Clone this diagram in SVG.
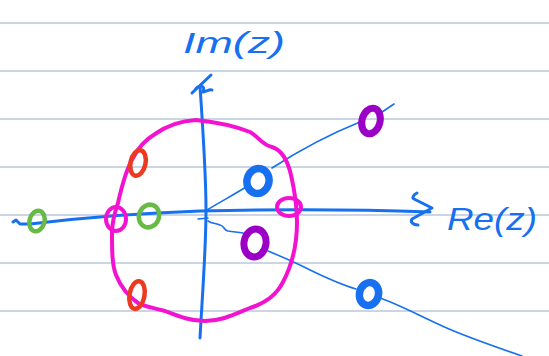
<svg xmlns="http://www.w3.org/2000/svg" width="549" height="356" viewBox="0 0 549 356">
<style>
.rule{stroke:#cbd5e3;stroke-width:2;fill:none}
.ax{stroke:#1670f0;stroke-width:3;fill:none;stroke-linecap:round;stroke-linejoin:round}
.thin{stroke:#1670f0;stroke-width:1.6;fill:none;stroke-linecap:round;stroke-linejoin:round}
.pink{stroke:#f412d2;stroke-width:4;fill:none;stroke-linecap:round;stroke-linejoin:round}
.red{stroke:#ec3a22;stroke-width:4.5;fill:none}
.green{stroke:#66bb44;stroke-width:4.5;fill:none}
.blue{stroke:#1670f0;stroke-width:7.5;fill:none}
.purple{stroke:#9a00c6;stroke-width:7;fill:none}
.lbl{font-family:"Liberation Sans",Arial,sans-serif;font-style:italic;fill:#1670f0}
</style>
<rect width="549" height="356" fill="#ffffff"/>
<g id="rules">
<line class="rule" x1="0" y1="23" x2="549" y2="23"/>
<line class="rule" x1="0" y1="71" x2="549" y2="71"/>
<line class="rule" x1="0" y1="119" x2="549" y2="119"/>
<line class="rule" x1="0" y1="167" x2="549" y2="167"/>
<line class="rule" x1="0" y1="215" x2="549" y2="215"/>
<line class="rule" x1="0" y1="263" x2="549" y2="263"/>
<line class="rule" x1="0" y1="311" x2="549" y2="311"/>
</g>
<g id="connectors">
<path class="ax" d="M 200,86 C 203,130 206,180 206,210 C 206,250 202,300 200,338"/>
<path class="ax" d="M 192,93 L 211,75 M 195,90 C 199,84 206,85 203,92 C 207,91 210,89 212,90"/>
<path class="ax" d="M 13,222 L 16,220 L 20,224 L 30,224 C 80,218 140,213 200,211 C 280,209 350,209 430,212"/>
<path class="ax" d="M 417,193 C 413,195 412,198 414,199 L 432,208 L 412,219 C 410,222 413,225 418,225"/>
<path class="thin" d="M 207,210 C 220,202 235,194 246,187 M 272,168 C 300,150 330,134 360,122 M 382,112 L 394,104"/>
<path class="thin" d="M 198,219 L 208,218 M 208,221 C 212,224 216,223 220,225 C 225,226 223,230 228,231 C 234,232 238,232 243,233 M 268,251 C 280,256 292,261 304,267 C 320,275 336,283 356,289 M 380,298 C 400,305 420,316 449,329 C 470,338 490,345 522,356"/>
<path class="pink" d="M 196,120 C 215,122 235,126 250,132 C 258,136 262,145 272,147 C 282,150 288,162 291,175 C 294,188 297,205 297,222 C 297,245 292,265 283,282 C 276,296 265,303 250,308 C 235,314 222,321 205,321 C 190,321 178,316 165,311 C 155,308 145,307 138,303 C 128,296 120,285 116,275 C 112,265 112,250 112,233 C 112,220 115,212 118,203 C 122,185 127,168 133,158 C 138,148 145,140 155,134 C 165,127 178,121 196,120 Z"/>
</g>
<g id="label-im"><text class="lbl" x="183" y="53" font-size="30" textLength="102" lengthAdjust="spacingAndGlyphs">Im(z)</text></g>
<g id="label-re"><text class="lbl" x="447" y="230" font-size="32" textLength="90" lengthAdjust="spacingAndGlyphs">Re(z)</text></g>
<g id="pink-left"><ellipse class="pink" cx="116" cy="219" rx="10" ry="12"/></g>
<g id="pink-right"><ellipse class="pink" cx="289" cy="207" rx="12" ry="9"/></g>
<g id="red-top"><ellipse class="red" cx="138" cy="163" rx="7.5" ry="13" transform="rotate(12 138 163)"/></g>
<g id="red-bottom"><ellipse class="red" cx="137" cy="295" rx="7.5" ry="14" transform="rotate(10 137 295)"/></g>
<g id="green-left"><ellipse class="green" cx="37" cy="221" rx="7.5" ry="10.5" transform="rotate(15 37 221)"/></g>
<g id="green-right"><ellipse class="green" cx="149" cy="216" rx="10" ry="11.5" transform="rotate(20 149 216)"/></g>
<g id="blue-inner"><ellipse class="blue" cx="258" cy="181" rx="11" ry="12.5" transform="rotate(15 258 181)"/></g>
<g id="blue-outer"><ellipse class="blue" cx="369" cy="294" rx="9.5" ry="11.5" transform="rotate(15 369 294)"/></g>
<g id="purple-outer"><ellipse class="purple" cx="371" cy="121" rx="9" ry="13" transform="rotate(15 371 121)"/></g>
<g id="purple-inner"><ellipse class="purple" cx="255" cy="243" rx="11" ry="14" transform="rotate(10 255 243)"/></g>
</svg>
